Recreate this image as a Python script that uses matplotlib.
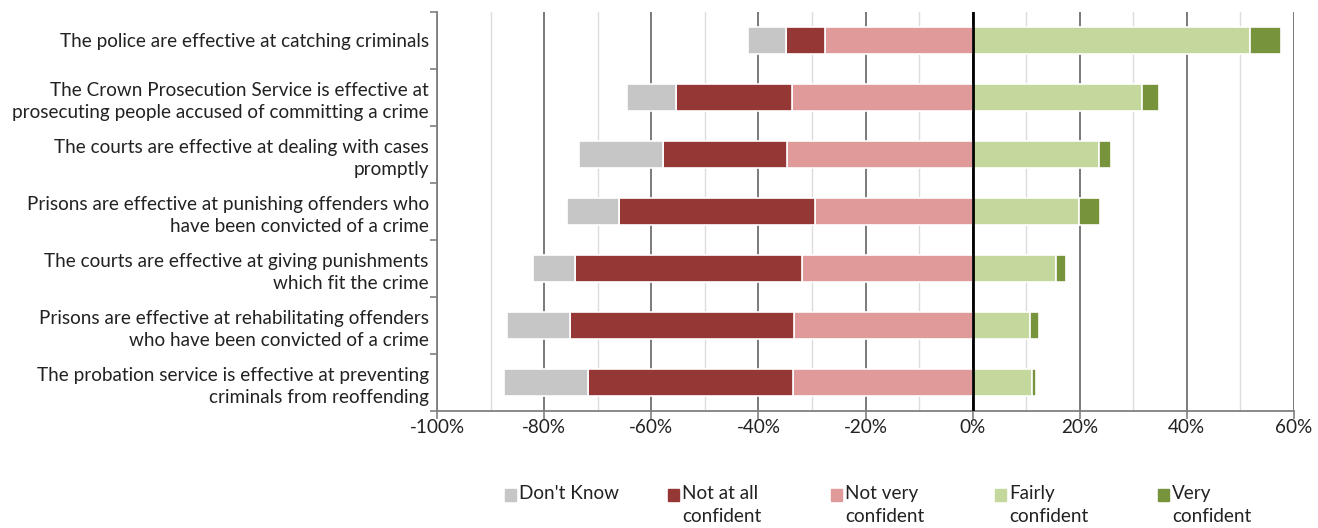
import matplotlib
matplotlib.use("Agg")
import matplotlib.pyplot as plt
from matplotlib.patches import Rectangle
import numpy as np

# data (percent of respondents)
statements = [
    "The police are effective at catching criminals",
    "The Crown Prosecution Service is effective at\nprosecuting people accused of committing a crime",
    "The courts are effective at dealing with cases\npromptly",
    "Prisons are effective at punishing offenders who\nhave been convicted of a crime",
    "The courts are effective at giving punishments\nwhich fit the crime",
    "Prisons are effective at rehabilitating offenders\nwho have been convicted of a crime",
    "The probation service is effective at preventing\ncriminals from reoffending",
]
dont_know = [7.0, 9.2, 15.7, 9.7, 7.7, 11.9, 15.6]
not_at_all = [7.4, 21.7, 23.1, 36.7, 42.4, 41.7, 38.3]
not_very = [27.5, 33.7, 34.7, 29.4, 31.9, 33.4, 33.6]
fairly = [51.7, 31.7, 23.6, 19.8, 15.5, 10.7, 11.0]
very = [5.8, 3.1, 2.3, 3.9, 1.9, 1.7, 0.9]

legend_labels = ["Don't Know", "Not at all\nconfident", "Not very\nconfident",
                 "Fairly\nconfident", "Very\nconfident"]
colors = ["#c6c6c6", "#953735", "#e09a9a", "#c4d89d", "#77933c"]

plt.rcParams["font.family"] = ["Lato", "DejaVu Sans"]
fs = 13.6

W, H = 1318, 528
fig = plt.figure(figsize=(W / 100, H / 100), dpi=100)
ax = fig.add_axes([437 / W, 1 - 410.7 / H, (1294 - 437) / W, (410.7 - 12) / H])

y = np.arange(len(statements))
h = 0.47
kw = dict(height=h, edgecolor="white", linewidth=1.2, zorder=3)

nv = -np.array(not_very)
na = -np.array(not_at_all)
dk = -np.array(dont_know)
ax.barh(y, nv, color=colors[2], **kw)
ax.barh(y, na, left=nv, color=colors[1], **kw)
ax.barh(y, dk, left=nv + na, color=colors[0], **kw)
ax.barh(y, fairly, color=colors[3], **kw)
ax.barh(y, very, left=fairly, color=colors[4], **kw)

ax.set_xlim(-100, 60)
ax.set_ylim(len(statements) - 0.5, -0.5)

# gridlines
ax.set_xticks(np.arange(-100, 61, 20))
ax.set_xticks(np.arange(-90, 60, 20), minor=True)
ax.set_xticklabels([f"{v}%" for v in range(-100, 61, 20)], fontsize=fs, color="#222222")
ax.grid(axis="x", which="major", color="#7a7a7a", linewidth=1.4, zorder=0)
ax.grid(axis="x", which="minor", color="#dcdcdc", linewidth=1.0, zorder=0)
ax.axvline(0, color="black", linewidth=2, zorder=4)

ax.set_yticks(y)
ax.set_yticklabels(statements, fontsize=fs, color="#222222", linespacing=1.38)
ax.set_yticks(np.arange(-0.5, len(statements)), minor=True)
ax.tick_params(axis="y", which="major", length=0, pad=6)
ax.tick_params(axis="y", which="minor", length=5, color="#808080", width=1.2)
ax.tick_params(axis="x", which="major", length=6, color="#808080", width=1.2, pad=0)
ax.tick_params(axis="x", which="minor", length=0)

for s in ["top", "right"]:
    ax.spines[s].set_visible(False)
for s in ["left", "bottom"]:
    ax.spines[s].set_color("#808080")
    ax.spines[s].set_linewidth(1.3)

# legend, built by hand so the swatch sits by the first text line
leg_x = [505, 668, 831, 995, 1158]
for lx, lab, c in zip(leg_x, legend_labels, colors):
    fig.add_artist(Rectangle((lx / W, 1 - 501 / H), 11 / W, 12 / H,
                             transform=fig.transFigure, color=c))
    fig.text((lx + 14) / W, 1 - 485 / H, lab, fontsize=fs, color="#222222",
             va="top", ha="left", linespacing=1.42)

fig.savefig("out.png", dpi=100)
